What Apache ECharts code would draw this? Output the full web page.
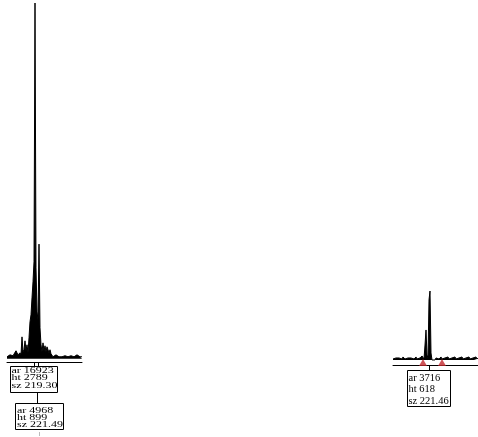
<!DOCTYPE html>
<html>
<head>
<meta charset="utf-8">
<script src="https://cdn.jsdelivr.net/npm/echarts@6/dist/echarts.min.js"></script>
<style>
  html, body { margin: 0; padding: 0; background: #fff; }
  #chart { width: 478px; height: 437px; }
</style>
</head>
<body>
<div id="chart"></div>
<script>
// Panel 1 trace (one sample per scan step), signal in RFU
const leftTrace = [
  16, 24, 16, 31, 16, 39, 24, 31, 16, 63, 47, 31, 16, 47, 31, 172,
  55, 71, 141, 63, 110, 47, 165, 290, 345, 478, 604, 760, 2789, 713,
  368, 306, 899, 243, 110, 55, 125, 63, 102, 55, 94, 71, 47, 71, 39,
  31, 16, 24, 16, 31, 16, 24, 16, 24, 31, 16, 24, 16, 24, 16, 31, 16,
  24, 16, 24, 16, 24, 16, 24, 16, 31, 16, 24, 16, 24, 16
];
// Panel 2 trace
const rightTrace = [
  9, 18, 9, 18, 27, 9, 18, 9, 18, 9, 27, 18, 9, 18, 9, 18, 27, 9, 18,
  9, 18, 9, 18, 27, 9, 18, 9, 18, 9, 36, 27, 9, 134, 269, 45, 18, 538,
  618, 63, 0, -9, 9, 0, 18, 9, 18, 9, 18, 27, 9, 18, 9, 18, 9, 18, 27,
  9, 18, 9, 18, 9, 18, 27, 9, 18, 9, 18, 9, 18, 27, 9, 18, 9, 18, 9,
  18, 27, 9, 18, 9, 18, 9, 18, 27, 9, 18
];

// Called peaks: scan index, area, height, size
const leftPeaks = [
  { scan: 28, ar: 16923, ht: 2789, sz: '219.30' },
  { scan: 32, ar: 4968, ht: 899, sz: '221.49' }
];
const rightPeaks = [
  { scan: 37, ar: 3716, ht: 618, sz: '221.46' }
];
// Peak window start / end markers on panel 2
const rightWindow = [30, 49];

const idx = arr => arr.map((_, i) => String(i));

const chart = echarts.init(document.getElementById('chart'), null, { renderer: 'canvas' });

const axisX = (n, grid) => ({
  type: 'category', gridIndex: grid, data: idx(n), boundaryGap: false,
  axisLine: { show: true, onZero: false, lineStyle: { color: '#000', width: 1 } },
  axisTick: { show: false }, axisLabel: { show: false }, splitLine: { show: false }
});
const axisY = (grid, min, max) => ({
  type: 'value', gridIndex: grid, min: min, max: max, show: false,
  splitLine: { show: false }
});
const trace = (data, i) => ({
  type: 'line', xAxisIndex: i, yAxisIndex: i, data: data,
  symbol: 'none', lineStyle: { color: '#000', width: 1 },
  areaStyle: { color: '#000', opacity: 1 }, silent: true
});

chart.setOption({
  animation: false,
  backgroundColor: '#fff',
  grid: [
    { left: 7, top: 3, width: 75, height: 359 },
    { left: 393, top: 291, width: 85, height: 74 }
  ],
  xAxis: [axisX(leftTrace, 0), axisX(rightTrace, 1)],
  yAxis: [axisY(0, -25, 2789), axisY(1, -45, 618)],
  series: [
    trace(leftTrace, 0),
    trace(rightTrace, 1),
    {
      type: 'scatter', xAxisIndex: 1, yAxisIndex: 1,
      data: rightWindow.map(s => [s, -22]),
      symbol: 'triangle', symbolSize: [8, 7],
      itemStyle: { color: '#c0282d' }, silent: true, z: 5
    }
  ]
});

// Peak annotation boxes, anchored to the peak scan position
const SERIF = '"Liberation Serif", "Times New Roman", serif';
function box(x0, y0, x1, y1) {
  return { type: 'rect', shape: { x: x0 + 0.5, y: y0 + 0.5, width: x1 - x0, height: y1 - y0 },
           style: { fill: '#fff', stroke: '#000', lineWidth: 1 }, z: 10 };
}
function vline(x, y0, y1, color) {
  return { type: 'line', shape: { x1: x + 0.5, y1: y0, x2: x + 0.5, y2: y1 },
           style: { stroke: color || '#000', lineWidth: 1 }, z: 10 };
}
function lines(p, x, ys, size, sy) {
  const t = ['ar ' + p.ar, 'ht ' + p.ht, 'sz ' + p.sz];
  return t.map((s, i) => ({
    type: 'text', x: x, y: ys[i], scaleY: sy, z: 11,
    style: { text: s, font: size + 'px ' + SERIF, fill: '#000',
             textVerticalAlign: 'middle', textAlign: 'left' }
  }));
}

const a = chart.convertToPixel({ gridIndex: 0 }, [leftPeaks[0].scan, 0])[0];
const b = chart.convertToPixel({ gridIndex: 1 }, [rightPeaks[0].scan, 0])[0];
const gl = Math.round(a), gr = Math.round(b);

const elements = [
  vline(gl - 1, 362, 366), vline(gl + 3, 362, 366),
  box(gl - 25, 366, gl + 22, 392),
  vline(gl + 2, 392, 403),
  box(gl - 20, 403, gl + 28, 429),
  vline(gl + 4, 432, 436, '#bbb'),
  vline(gr - 1, 365, 370),
  box(gr - 23, 370, gr + 20, 406)
].concat(
  lines(leftPeaks[0], gl - 23.5, [370.6, 378, 385.6], 12, 0.66),
  lines(leftPeaks[1], gl - 18, [410.6, 418, 425.4], 12, 0.66),
  lines(rightPeaks[0], gr - 21.5, [378.2, 389.6, 401], 10.5, 0.95)
);
chart.setOption({ graphic: { elements: elements } });
</script>
</body>
</html>
